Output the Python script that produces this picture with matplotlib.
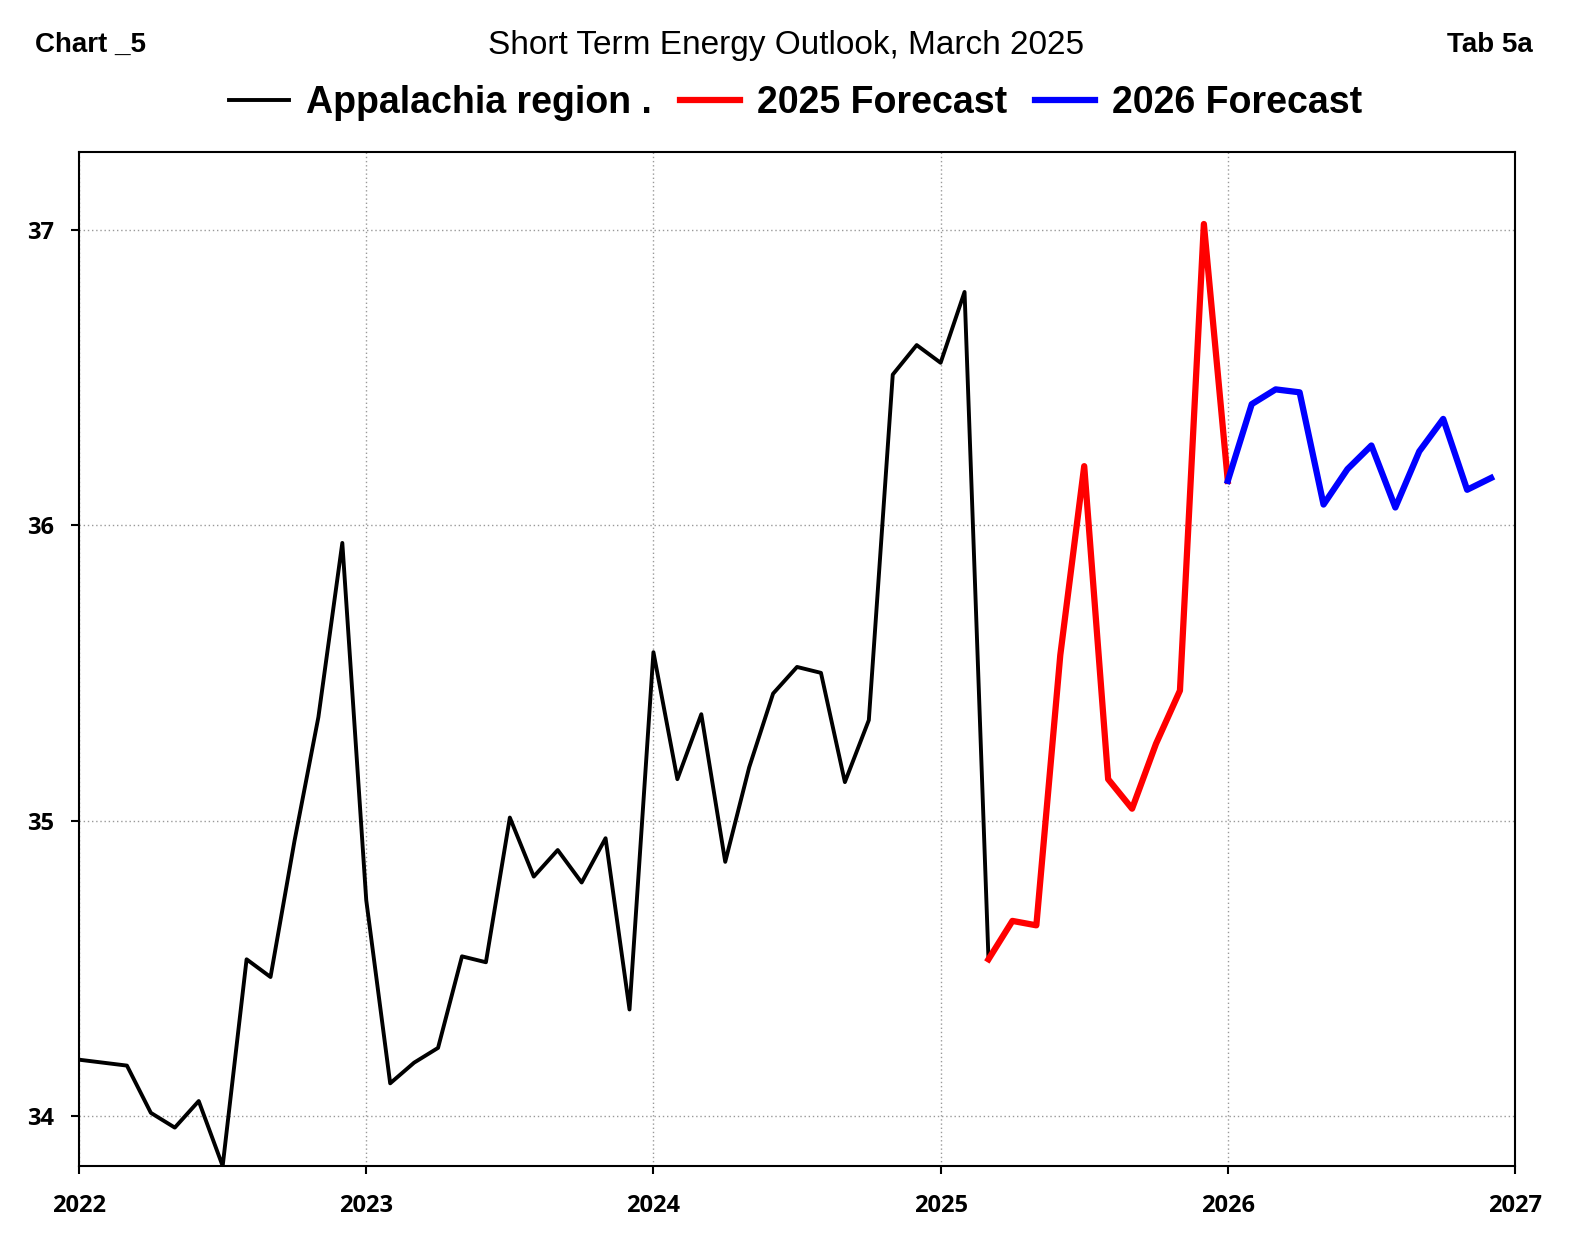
import numpy as np
import matplotlib.pyplot as plt

# monthly values
hist_start = 2022  # Jan 2022 .. Mar 2025
hist_vals = [34.19, 34.18, 34.17, 34.01, 33.96, 34.05, 33.83, 34.53, 34.47, 34.93, 35.35, 35.94,
             34.73, 34.11, 34.18, 34.23, 34.54, 34.52, 35.01, 34.81, 34.90, 34.79, 34.94, 34.36,
             35.57, 35.14, 35.36, 34.86, 35.18, 35.43, 35.52, 35.50, 35.13, 35.34, 36.51, 36.61,
             36.55, 36.79, 34.53]
f25_start = 2025 + 2 / 12  # Mar 2025 .. Jan 2026
f25_vals = [34.53, 34.66, 34.645, 35.56, 36.20, 35.14, 35.04, 35.26, 35.44, 37.02, 36.15]
f26_start = 2026  # Jan 2026 .. Dec 2026
f26_vals = [36.15, 36.41, 36.46, 36.45, 36.07, 36.19, 36.27, 36.06, 36.25, 36.36, 36.12, 36.16]

y_ticks = [34, 35, 36, 37]
x_ticks = [2022, 2023, 2024, 2025, 2026, 2027]


def months(start, vals):
    return start + np.arange(len(vals)) / 12


def main():
    fig = plt.figure(figsize=(15.75, 12.6), dpi=100)
    ax = fig.add_axes([0.0502, 0.0746, 0.9117, 0.8048])

    ax.plot(months(hist_start, hist_vals), hist_vals, color='black', lw=2.8,
            label='Appalachia region .')
    ax.plot(months(f25_start, f25_vals), f25_vals, color='#ff0000', lw=4.5,
            label='2025 Forecast')
    ax.plot(months(f26_start, f26_vals), f26_vals, color='#0000ff', lw=4.5,
            label='2026 Forecast')

    ax.set_xlim(2022, 2027)
    ax.set_ylim(33.83, 37.264)
    ax.set_xticks(x_ticks)
    ax.set_yticks(y_ticks)
    ax.grid(True, color='#999999', linestyle=(0, (1, 2)), lw=1)
    for sp in ax.spines.values():
        sp.set_linewidth(1.5)
    ax.tick_params(direction='out', length=6, width=1.5)
    ax.tick_params(axis='x', pad=14)
    ax.tick_params(axis='y', pad=12)
    for lab in ax.get_xticklabels() + ax.get_yticklabels():
        lab.set_family('Open Sans')
        lab.set_fontweight('bold')
        lab.set_fontsize(17)

    fig.text(0.499, 0.964, 'Short Term Energy Outlook, March 2025', ha='center', va='center',
             family='Liberation Sans', fontsize=24)
    fig.text(0.022, 0.964, 'Chart _5', ha='left', va='center',
             family='Liberation Sans', fontweight='bold', fontsize=20)
    fig.text(0.9733, 0.964, 'Tab 5a', ha='right', va='center',
             family='Liberation Sans', fontweight='bold', fontsize=20)

    fig.legend(loc='center', bbox_to_anchor=(0.505, 0.918), ncol=3, frameon=False,
               prop={'family': 'Liberation Sans', 'weight': 'bold', 'size': 27},
               handlelength=1.6, handletextpad=0.45, columnspacing=0.75)

    fig.savefig('out.png', dpi=100)


if __name__ == "__main__":
    main()
